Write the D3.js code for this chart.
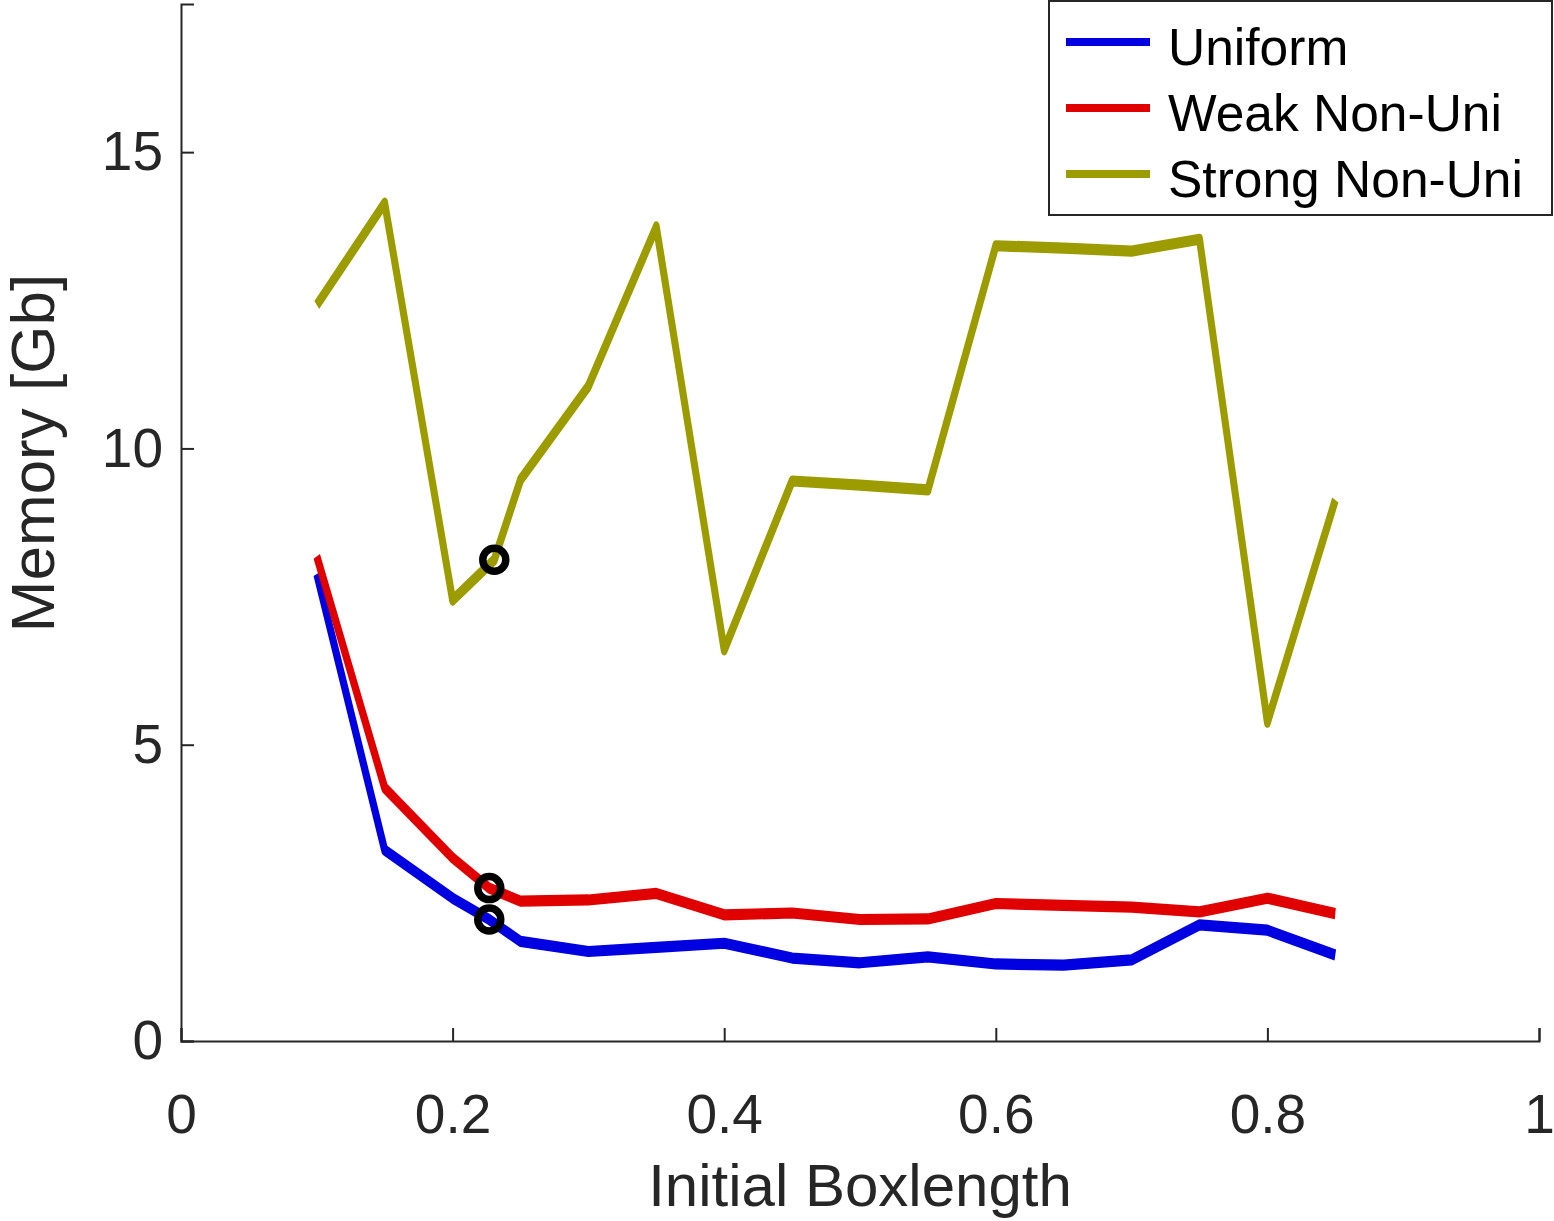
<!DOCTYPE html>
<html lang="en">
<head>
<meta charset="UTF-8">
<title>Memory vs Initial Boxlength</title>
<script src="https://d3js.org/d3.v7.min.js"></script>
<style>
  body { margin: 0; background: #fff; font-family: "Liberation Sans", Arial, Helvetica, sans-serif; }
</style>
</head>
<body>
<div id="chart"></div>
<script>
// values
const boxlength = [0.1, 0.15, 0.2, 0.25, 0.3, 0.35, 0.4, 0.45, 0.5, 0.55, 0.6, 0.65, 0.7, 0.75, 0.8, 0.85];
const uniform = [7.88, 3.22, 2.41, 1.68, 1.51, 1.58, 1.65, 1.40, 1.32, 1.42, 1.30, 1.28, 1.37, 1.96, 1.87, 1.45];
const weakNonUni = [8.18, 4.27, 3.09, 2.36, 2.38, 2.49, 2.13, 2.16, 2.05, 2.06, 2.32, 2.29, 2.26, 2.18, 2.41, 2.15];
const strongNonUni = [12.42, 14.14, 7.44, 9.47, 11.05, 13.74, 6.60, 9.45, 9.38, 9.30, 13.42, 13.38, 13.33, 13.53, 5.38, 9.13];
// chosen boxlength per case (circled)
const chosenX = [0.227, 0.227, 0.2307];
const chosenY = [2.05, 2.58, 8.12];

const seriesNames = ["Uniform", "Weak Non-Uni", "Strong Non-Uni"];
const seriesColors = ["#0000e1", "#e10000", "#9c9c00"];
const xTicks = [0, 0.2, 0.4, 0.6, 0.8, 1];
const yTicks = [0, 5, 10, 15];

const width = 1554, height = 1221;
const margin = { left: 181, top: 4, right: 15, bottom: 180 };
const plotW = width - margin.left - margin.right;
const plotH = height - margin.top - margin.bottom;

const svg = d3.select("#chart").append("svg")
    .attr("width", width).attr("height", height)
    .style("font-family", "'Liberation Sans', Arial, Helvetica, sans-serif");

const g = svg.append("g").attr("transform", `translate(${margin.left},${margin.top})`);

const x = d3.scaleLinear().domain([0, 1]).range([0, plotW]);
const y = d3.scaleLinear().domain([0, 17.5]).range([plotH, 0]);

// series with the chosen point put in place
const series = [uniform, weakNonUni, strongNonUni].map((vals, i) => {
    const pts = boxlength.map((b, j) => [b, vals[j]]);
    pts.push([chosenX[i], chosenY[i]]);
    pts.sort((a, b) => a[0] - b[0]);
    return { name: seriesNames[i], color: seriesColors[i], pts: pts };
});

// lines: pen is taller than wide in the original render
const k = 1.6;
const lineGen = d3.line().x(d => x(d[0])).y(d => y(d[1]) / k);
const lines = g.append("g").attr("transform", `scale(1,${k})`);
lines.selectAll("path").data(series).enter().append("path")
    .attr("d", d => lineGen(d.pts))
    .attr("fill", "none")
    .attr("stroke", d => d.color)
    .attr("stroke-width", 7)
    .attr("stroke-linejoin", "round")
    .attr("stroke-linecap", "butt");

// circled points
g.selectAll(".chosen").data(chosenX).enter().append("circle")
    .attr("class", "chosen")
    .attr("cx", d => x(d))
    .attr("cy", (d, i) => y(chosenY[i]))
    .attr("r", 11.5)
    .attr("fill", "none")
    .attr("stroke", "#000")
    .attr("stroke-width", 7.5);

// axes (ticks inward)
const xAxis = g.append("g").attr("transform", `translate(0,${plotH})`)
    .call(d3.axisBottom(x).tickValues(xTicks).tickFormat(d3.format("~g"))
        .tickSizeInner(-13).tickSizeOuter(-13).tickPadding(53));
const yAxis = g.append("g")
    .call(d3.axisLeft(y).tickValues(yTicks).tickFormat(d3.format("~g"))
        .tickSizeInner(-13).tickSizeOuter(-13).tickPadding(18));

[xAxis, yAxis].forEach(a => {
    a.attr("font-family", null).attr("font-size", null);
    a.select(".domain").attr("stroke", "#262626").attr("stroke-width", 2);
    a.selectAll(".tick line").attr("stroke", "#262626").attr("stroke-width", 2);
    a.selectAll(".tick text").attr("fill", "#262626").style("font-size", "55px");
});

// axis labels
svg.append("text")
    .attr("x", margin.left + plotW / 2).attr("y", 1206)
    .attr("text-anchor", "middle")
    .attr("fill", "#262626").style("font-size", "60px")
    .text("Initial Boxlength");

svg.append("text")
    .attr("transform", "translate(54,453) rotate(-90)")
    .attr("text-anchor", "middle")
    .attr("fill", "#262626").style("font-size", "62px")
    .text("Memory [Gb]");

// legend
const legend = svg.append("g").attr("transform", "translate(1049,1)");
legend.append("rect")
    .attr("width", 503).attr("height", 214)
    .attr("fill", "#fff").attr("stroke", "#262626").attr("stroke-width", 2);
const rows = legend.selectAll(".row").data(series).enter().append("g")
    .attr("class", "row")
    .attr("transform", (d, i) => `translate(0,${41 + i * 66})`);
rows.append("line")
    .attr("x1", 17).attr("x2", 101)
    .attr("stroke", d => d.color).attr("stroke-width", 8);
rows.append("text")
    .attr("x", 119).attr("y", 23)
    .attr("fill", "#000").style("font-size", "51.5px")
    .text(d => d.name);
</script>
</body>
</html>
